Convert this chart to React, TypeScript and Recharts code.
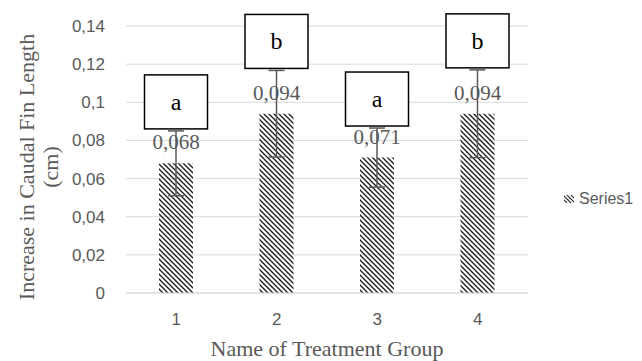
import React from "react";
import {
  BarChart,
  Bar,
  XAxis,
  YAxis,
  CartesianGrid,
  ErrorBar,
  LabelList,
  Legend,
} from "recharts";

const categories = ["1", "2", "3", "4"];
const values = [0.068, 0.094, 0.071, 0.094];
const errors = [0.017, 0.0227, 0.0155, 0.023];
const letters = ["a", "b", "a", "b"];
const valueLabels = ["0,068", "0,094", "0,071", "0,094"];
const yTicks = [0, 0.02, 0.04, 0.06, 0.08, 0.1, 0.12, 0.14];
const yTickLabels = ["0", "0,02", "0,04", "0,06", "0,08", "0,1", "0,12", "0,14"];
const seriesName = "Series1";
const xTitle = "Name of Treatment Group";
const yTitleLines = ["Increase in Caudal Fin Length", "(cm)"];

const data = categories.map((c, i) => ({
  name: c,
  value: values[i],
  err: errors[i],
  letter: letters[i],
  label: valueLabels[i],
}));

const GRAY = "#595959";
const SERIF = "'Liberation Serif', 'Times New Roman', serif";
const SANS = "'Liberation Sans', Arial, sans-serif";

const BoxLabel = (props: any) => {
  const { x, y, width, height, index, value } = props;
  const i = typeof index === "number" ? index : letters.indexOf(value);
  const v = values[i];
  const pxPerUnit = height / v;
  const errTop = y - errors[i] * pxPerUnit;
  const bw = 63;
  const bh = 54;
  const cx = x + width / 2;
  const bottom = errTop - 2;
  return (
    <g>
      <rect
        x={cx - bw / 2}
        y={bottom - bh}
        width={bw}
        height={bh}
        fill="#ffffff"
        stroke="#000000"
        strokeWidth={1.5}
      />
      <text
        x={cx}
        y={bottom - bh / 2}
        textAnchor="middle"
        dominantBaseline="central"
        fontFamily={SERIF}
        fontSize={24}
        fill="#000000"
      >
        {value}
      </text>
    </g>
  );
};

const YTitle = () => (
  <g>
    <text
      x={34}
      y={167}
      transform="rotate(-90 34 167)"
      textAnchor="middle"
      fontFamily={SERIF}
      fontSize={22}
      fill={GRAY}
    >
      {yTitleLines[0]}
    </text>
    <text
      x={58}
      y={167}
      transform="rotate(-90 58 167)"
      textAnchor="middle"
      fontFamily={SERIF}
      fontSize={22}
      fill={GRAY}
    >
      {yTitleLines[1]}
    </text>
  </g>
);

const XTitle = (props: any) => {
  const vb = props.viewBox || { x: 126, width: 402 };
  return (
    <text
      x={vb.x + vb.width / 2}
      y={356}
      textAnchor="middle"
      fontFamily={SERIF}
      fontSize={22}
      fill={GRAY}
    >
      {xTitle}
    </text>
  );
};

const LegendContent = () => (
  <div style={{ display: "flex", alignItems: "center", whiteSpace: "nowrap" }}>
    <svg width={14} height={10} style={{ marginRight: 3 }}>
      <defs>
        <pattern id="hatchLegend" width="4" height="4" patternUnits="userSpaceOnUse">
          <path d="M0,0 L4,4 M-1,3 L1,5 M3,-1 L5,1" stroke="#222" strokeWidth={1.1} />
        </pattern>
      </defs>
      <rect x={2} y={1} width={10} height={8} fill="url(#hatchLegend)" />
    </svg>
    <span style={{ fontFamily: SANS, fontSize: 16, color: GRAY }}>{seriesName}</span>
  </div>
);

export default function App() {
  return (
    <div style={{ position: "absolute", left: 0, top: 0, width: 642, height: 361, background: "#fff" }}>
      <BarChart
        width={642}
        height={361}
        data={data}
        margin={{ top: 26, right: 34, bottom: 0, left: 0 }}
      >
        <defs>
          <pattern id="hatch" width="5" height="5" patternUnits="userSpaceOnUse">
            <path d="M0,0 L5,5 M-1,4 L1,6 M4,-1 L6,1" stroke="#1a1a1a" strokeWidth={1.3} />
          </pattern>
        </defs>
        <CartesianGrid vertical={false} stroke="#d9d9d9" strokeWidth={1} />
        <XAxis
          dataKey="name"
          height={68}
          axisLine={{ stroke: "#d9d9d9" }}
          tickLine={false}
          tickSize={0}
          tickMargin={20}
          tick={{ fontFamily: SANS, fontSize: 17, fill: GRAY }}
          label={<XTitle />}
        />
        <YAxis
          width={126}
          domain={[0, 0.14]}
          ticks={yTicks}
          interval={0}
          axisLine={false}
          tickLine={false}
          tickSize={0}
          tickMargin={21}
          tick={{ fontFamily: SANS, fontSize: 17, fill: GRAY }}
          tickFormatter={(v: number) => {
            const idx = yTicks.findIndex((t) => Math.abs(t - v) < 1e-9);
            return idx >= 0 ? yTickLabels[idx] : String(v).replace(".", ",");
          }}
          label={<YTitle />}
        />
        <Legend
          layout="horizontal"
          align="right"
          verticalAlign="middle"
          content={<LegendContent />}
          wrapperStyle={{ position: "absolute", left: 562, top: 190, width: 80 }}
        />
        <Bar
          dataKey="value"
          name={seriesName}
          fill="url(#hatch)"
          barSize={34}
          isAnimationActive={false}
        >
          <ErrorBar
            dataKey="err"
            width={8}
            stroke={GRAY}
            strokeWidth={1.5}
            isAnimationActive={false}
          />
          <LabelList
            dataKey="label"
            position="top"
            offset={14}
            style={{ fontFamily: SERIF, fontSize: 21, fill: GRAY }}
          />
          <LabelList dataKey="letter" content={<BoxLabel />} />
        </Bar>
      </BarChart>
    </div>
  );
}
